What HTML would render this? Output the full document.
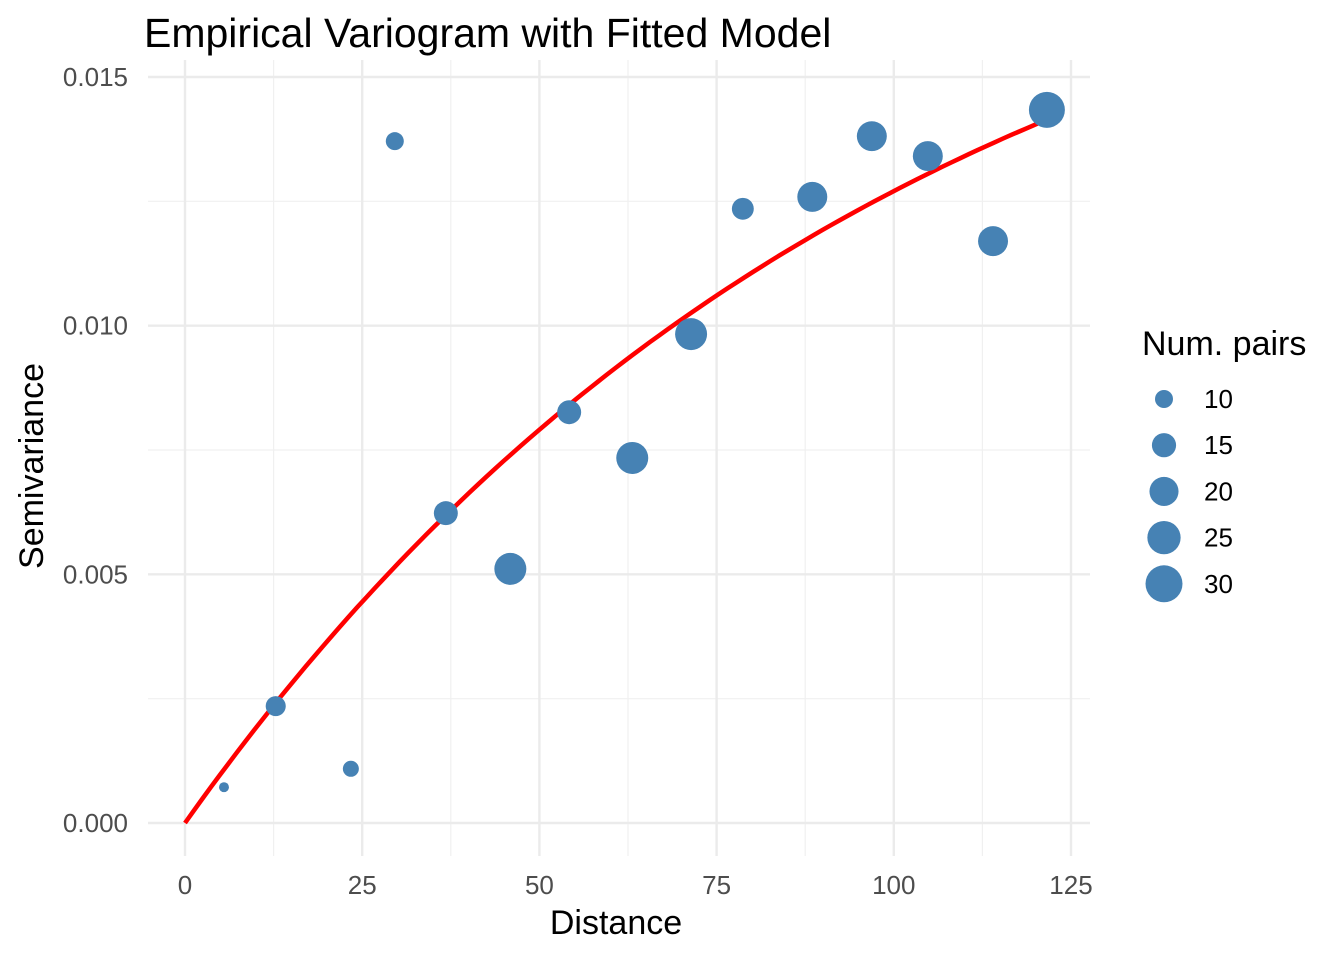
<!DOCTYPE html>
<html><head><meta charset="utf-8"><style>
html,body{margin:0;padding:0;background:#fff;}
svg{display:block;font-family:"Liberation Sans",Arial,sans-serif;}
</style></head><body>
<svg id="chart" width="1344" height="960" viewBox="0 0 1344 960">
<g id="grid"></g>
<g id="axes"></g>
<g id="curve"></g>
<g id="pts"></g>
<text x="144" y="47" font-size="41" fill="#000">Empirical Variogram with Fitted Model</text>
<text x="616" y="934" font-size="34" text-anchor="middle" fill="#000">Distance</text>
<text transform="translate(43,466) rotate(-90)" font-size="34" text-anchor="middle" fill="#000">Semivariance</text>
<g id="legend">
<text x="1142" y="355" font-size="34" fill="#000">Num. pairs</text>
</g>
</svg>
<script>
const distances=[5.5,12.8,23.4,29.6,36.8,45.9,54.2,63.1,71.4,78.7,88.5,96.9,104.8,114.0,121.6];
const gammas=[0.00072,0.00235,0.00109,0.01371,0.00623,0.00511,0.00826,0.00734,0.00983,0.01235,0.01259,0.01381,0.01341,0.01170,0.01434];
const npairs=[5.7,11.5,8.7,10,14.8,23.4,14.8,23.4,23.4,13,21,21,21,21,28.6];
const xTicks=[0,25,50,75,100,125];
const yTicks=[0,0.005,0.010,0.015];
const yTickLabels=["0.000","0.005","0.010","0.015"];
const legendValues=[10,15,20,25,30];
const modelSill=0.0201, modelRange=100, modelMaxDist=121.5;

const NS="http://www.w3.org/2000/svg";
const X=v=>185+v*(1071-185)/125;
const Y=v=>823-v*(823-77)/0.015;
const R=n=>Math.sqrt(Math.max(0,13.05*n-49.5));
function mk(tag,attrs,parent){const e=document.createElementNS(NS,tag);for(const k in attrs)e.setAttribute(k,attrs[k]);parent.appendChild(e);return e;}
const grid=document.getElementById('grid'),axes=document.getElementById('axes');
const L=148,Rt=1090,T=60,B=856;
for(let i=0;i<xTicks.length-1;i++){const v=(xTicks[i]+xTicks[i+1])/2;
 const l=mk('line',{x1:X(v),x2:X(v),y1:T,y2:B,stroke:'#f0f0f0','stroke-width':1.2},grid);
 }
for(let i=0;i<yTicks.length-1;i++){const v=(yTicks[i]+yTicks[i+1])/2;
 const l=mk('line',{x1:L,x2:Rt,y1:Y(v),y2:Y(v),stroke:'#f0f0f0','stroke-width':1.2},grid);
 }
xTicks.forEach(v=>{
 const l=mk('line',{x1:X(v),x2:X(v),y1:T,y2:B,stroke:'#ebebeb','stroke-width':2.4},grid);
 
 const t=mk('text',{x:X(v),y:894,'font-size':26,fill:'#4d4d4d','text-anchor':'middle'},axes);t.textContent=v;
 
});
yTicks.forEach((v,i)=>{
 const l=mk('line',{x1:L,x2:Rt,y1:Y(v),y2:Y(v),stroke:'#ebebeb','stroke-width':2.4},grid);
 
 const t=mk('text',{x:128,y:Y(v)+9,'font-size':26,fill:'#4d4d4d','text-anchor':'end'},axes);t.textContent=yTickLabels[i];
 
});
const pts=document.getElementById('pts');
distances.forEach((d,i)=>{
 const c=mk('circle',{cx:X(d),cy:Y(gammas[i]),r:R(npairs[i]),fill:'#4682b4'},pts);
 
});
let dpath='';
for(let k=0;k<=100;k++){const h=modelMaxDist*k/100;const g=modelSill*(1-Math.exp(-h/modelRange));dpath+=(k?'L':'M')+X(h).toFixed(1)+' '+Y(g).toFixed(1);}
const p=mk('path',{d:dpath,fill:'none',stroke:'#ff0000','stroke-width':4.5},document.getElementById('curve'));

const lg=document.getElementById('legend');
legendValues.forEach((v,i)=>{const cy=399+i*46.2;
 const c=mk('circle',{cx:1164,cy:cy,r:R(v),fill:'#4682b4'},lg);
 
 const t=mk('text',{x:1204,y:cy+9,'font-size':26,fill:'#000'},lg);t.textContent=v;
 
});
</script>
</body></html>
